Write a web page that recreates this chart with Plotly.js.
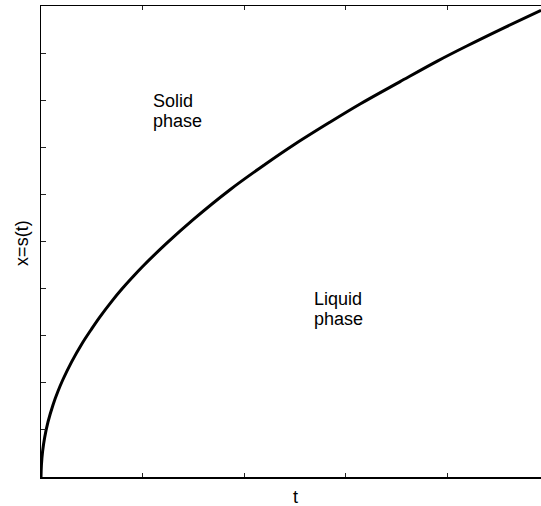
<!DOCTYPE html>
<html>
<head>
<meta charset="utf-8">
<script src="https://cdn.plot.ly/plotly-3.0.1.min.js"></script>
<style>
  html, body { margin: 0; padding: 0; background: #fff; }
  #chart { width: 541px; height: 506px; }
</style>
</head>
<body>
<div id="chart"></div>
<script>
// Values
const t_values = [0, 0.004, 0.016, 0.036, 0.069, 0.118, 0.167, 0.216, 0.30, 0.40, 0.50, 0.58, 0.70, 0.80, 0.90, 1.00, 1.24, 1.50, 1.86, 2.20, 2.50, 2.84, 3.14, 3.53, 3.90, 4.19, 4.55, 4.92];
const s_values = [0, 0.25, 0.55, 0.84, 1.17, 1.53, 1.82, 2.07, 2.44, 2.82, 3.15, 3.40, 3.74, 4.00, 4.24, 4.47, 4.97, 5.47, 6.10, 6.63, 7.07, 7.53, 7.92, 8.39, 8.83, 9.15, 9.53, 9.91];

const x_title = "t";
const y_title = "x=s(t)";
const region_labels = ["Solid", "phase", "Liquid", "phase"];
const region_label_t = [1.085, 1.085, 2.665, 2.665];
const region_label_s = [7.98, 7.55, 3.78, 3.36];

const FONT = "Liberation Sans, Arial, Helvetica, sans-serif";

const trace = {
  x: t_values,
  y: s_values,
  type: "scatter",
  mode: "lines",
  line: { color: "#000", width: 3, shape: "spline", smoothing: 1 },
  hoverinfo: "skip",
  showlegend: false
};

const annotations = region_labels.map((txt, i) => ({
  text: txt,
  x: region_label_t[i],
  y: region_label_s[i],
  xref: "x",
  yref: "y",
  xanchor: "left",
  yanchor: "middle",
  showarrow: false,
  font: { family: FONT, size: 18, color: "#000" }
}));

annotations.push({
  text: x_title,
  xref: "paper", yref: "paper",
  x: 0.508, y: -0.043,
  xanchor: "center", yanchor: "middle",
  showarrow: false,
  font: { family: FONT, size: 18, color: "#000" }
});
annotations.push({
  text: y_title,
  xref: "paper", yref: "paper",
  x: -0.0395, y: 0.4976,
  xanchor: "center", yanchor: "middle",
  textangle: -90,
  showarrow: false,
  font: { family: FONT, size: 18, color: "#000" }
});

const layout = {
  width: 541,
  height: 506,
  margin: { l: 41, r: 0, t: 6, b: 29, pad: 0 },
  paper_bgcolor: "#fff",
  plot_bgcolor: "#fff",
  font: { family: FONT, size: 18, color: "#000" },
  showlegend: false,
  xaxis: {
    range: [0, 4.92],
    dtick: 1,
    tick0: 0,
    ticks: "inside",
    ticklen: 4,
    tickwidth: 1,
    tickcolor: "#222",
    showticklabels: false,
    showgrid: false,
    zeroline: false,
    showline: true,
    linecolor: "#000",
    linewidth: 1.5,
    mirror: "ticks",
    fixedrange: true
  },
  yaxis: {
    range: [0, 10],
    dtick: 1,
    tick0: 0,
    ticks: "inside",
    ticklen: 5,
    tickwidth: 1,
    tickcolor: "#222",
    showticklabels: false,
    showgrid: false,
    zeroline: false,
    showline: true,
    linecolor: "#000",
    linewidth: 1.5,
    mirror: false,
    fixedrange: true
  },
  annotations: annotations
};

Plotly.newPlot("chart", [trace], layout, { staticPlot: true, displayModeBar: false });
</script>
</body>
</html>
